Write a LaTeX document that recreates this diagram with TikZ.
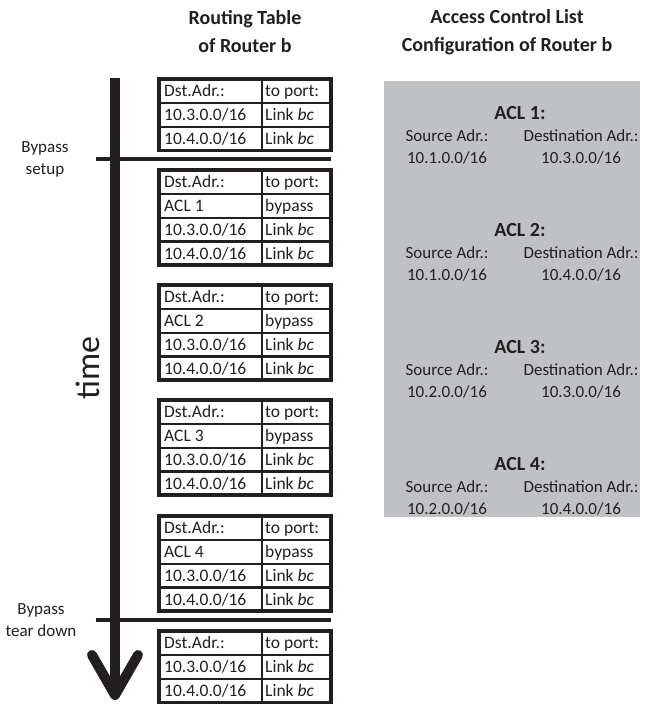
\documentclass[tikz,border=0pt]{standalone}
\usepackage{fontspec}
\setmainfont{Carlito}
\definecolor{aclgray}{RGB}{192,193,197}
\definecolor{ink}{RGB}{35,31,32}
\newcommand\rowh{23.8}
\tikzset{
  celltxt/.style={anchor=base west,inner sep=0pt,text=ink,font=\fontsize{17.5}{20}\selectfont},
  innerln/.style={draw=ink,line width=2.2pt},
  outerln/.style={draw=ink,line width=3.6pt},
  hdr/.style={align=center,inner sep=0pt,text=ink,font=\bfseries\fontsize{20}{28}\selectfont},
  acltitle/.style={inner sep=0pt,text=ink,font=\bfseries\fontsize{20}{24}\selectfont},
  acltxt/.style={inner sep=0pt,text=ink,font=\fontsize{17}{20}\selectfont},
  sidelbl/.style={align=center,inner sep=0pt,text=ink,font=\fontsize{17}{22}\selectfont},
  timeline/.style={draw=ink,line width=3.5pt},
}
\newcommand\TabFrame[2]{%
  \fill[white] (159,#1) rectangle (331,{#1+#2*\rowh});
  \foreach \k in {1,...,#2}{\ifnum\k>1 \draw[innerln] (159,{#1+(\k-1)*\rowh}) -- (331,{#1+(\k-1)*\rowh});\fi}
  \draw[innerln] (262,#1) -- (262,{#1+#2*\rowh});
  \draw[outerln] (159,#1) rectangle (331,{#1+#2*\rowh});
}
\newcommand\TRow[5]{%
  \node[celltxt] (#1-#3a) at (164,{#2+(#3-0.5)*\rowh+6}) {#4};
  \node[celltxt] (#1-#3b) at (265,{#2+(#3-0.5)*\rowh+6}) {#5};
}
\newcommand\ACLBlock[4]{%
  \node[acltitle] (acl#1) at (520,#2) {ACL #1:};
  \node[acltxt] (src#1) at (447,{#2+23}) {Source Adr.:};
  \node[acltxt] (dst#1) at (581,{#2+23}) {Destination Adr.:};
  \node[acltxt] (srcv#1) at (447,{#2+45}) {#3};
  \node[acltxt] (dstv#1) at (581,{#2+45}) {#4};
}
\begin{document}
\begin{tikzpicture}[x=1pt,y=-1pt]
\useasboundingbox (0,0) rectangle (645,706);
\fill[white] (0,0) rectangle (645,706);
% headers
\node[hdr] (h1) at (245,32) {Routing Table\\of Router b};
\node[hdr] (h2) at (507,32) {Access Control List\\Configuration of Router b};
% time arrow
\coordinate (ttop) at (115,78);
\coordinate (tbot) at (115,688);
\coordinate (al) at (92,655);
\coordinate (ar) at (138,655);
\coordinate (tip) at (115,695);
\draw[draw=ink,line width=9.5pt] (ttop) -- (tbot);
\draw[draw=ink,line width=10pt,line cap=round,line join=round] (al) -- (tip) -- (ar);
\node[rotate=90,inner sep=0pt,text=ink,font=\fontsize{34}{40}\selectfont] (time) at (88,368) {time};
% event lines
\coordinate (s1) at (96,159); \coordinate (e1) at (331,159);
\coordinate (s2) at (96,620); \coordinate (e2) at (331,620);
\draw[timeline] (s1) -- (e1);
\draw[timeline] (s2) -- (e2);
\node[sidelbl] (bset) at (45,159) {Bypass\\setup};
\node[sidelbl] (btear) at (41,620) {Bypass\\tear down};
% tables
\TabFrame{79}{3}
\TRow{ta}{79}{1}{Dst.Adr.:}{to port:}
\TRow{ta}{79}{2}{10.3.0.0/16}{Link \textit{bc}}
\TRow{ta}{79}{3}{10.4.0.0/16}{Link \textit{bc}}
\TabFrame{170}{4}
\TRow{tb}{170}{1}{Dst.Adr.:}{to port:}
\TRow{tb}{170}{2}{ACL 1}{bypass}
\TRow{tb}{170}{3}{10.3.0.0/16}{Link \textit{bc}}
\TRow{tb}{170}{4}{10.4.0.0/16}{Link \textit{bc}}
\TabFrame{285}{4}
\TRow{tc}{285}{1}{Dst.Adr.:}{to port:}
\TRow{tc}{285}{2}{ACL 2}{bypass}
\TRow{tc}{285}{3}{10.3.0.0/16}{Link \textit{bc}}
\TRow{tc}{285}{4}{10.4.0.0/16}{Link \textit{bc}}
\TabFrame{400}{4}
\TRow{td}{400}{1}{Dst.Adr.:}{to port:}
\TRow{td}{400}{2}{ACL 3}{bypass}
\TRow{td}{400}{3}{10.3.0.0/16}{Link \textit{bc}}
\TRow{td}{400}{4}{10.4.0.0/16}{Link \textit{bc}}
\TabFrame{516}{4}
\TRow{te}{516}{1}{Dst.Adr.:}{to port:}
\TRow{te}{516}{2}{ACL 4}{bypass}
\TRow{te}{516}{3}{10.3.0.0/16}{Link \textit{bc}}
\TRow{te}{516}{4}{10.4.0.0/16}{Link \textit{bc}}
\TabFrame{631}{3}
\TRow{tf}{631}{1}{Dst.Adr.:}{to port:}
\TRow{tf}{631}{2}{10.3.0.0/16}{Link \textit{bc}}
\TRow{tf}{631}{3}{10.4.0.0/16}{Link \textit{bc}}
% ACL box
\fill[aclgray] (384,81) rectangle (640,517);
\ACLBlock{1}{113}{10.1.0.0/16}{10.3.0.0/16}
\ACLBlock{2}{230}{10.1.0.0/16}{10.4.0.0/16}
\ACLBlock{3}{347}{10.2.0.0/16}{10.3.0.0/16}
\ACLBlock{4}{464}{10.2.0.0/16}{10.4.0.0/16}
\end{tikzpicture}
\end{document}
